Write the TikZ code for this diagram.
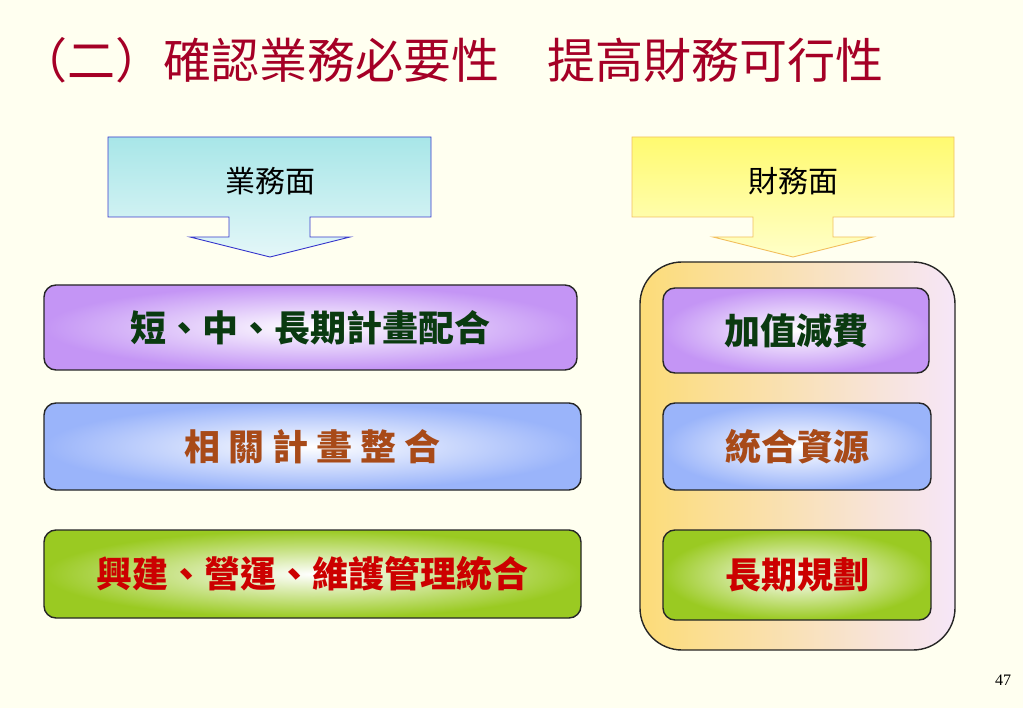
\documentclass[tikz,border=0pt]{standalone}
\usepackage{fontspec}
\newfontfamily\cjk{Noto Sans CJK TC}
\setmainfont{Liberation Serif}
\definecolor{bgc}{HTML}{FFFFF0}
\definecolor{titlered}{HTML}{A50026}
\definecolor{cyantop}{HTML}{A8E6E8}
\definecolor{cyanbot}{HTML}{E4F7F8}
\definecolor{blueedge}{HTML}{3A3ACC}
\definecolor{yeltop}{HTML}{FFFA70}
\definecolor{yelbot}{HTML}{FFFFC8}
\definecolor{yeledge}{HTML}{F2C060}
\definecolor{purp}{HTML}{C495F5}
\definecolor{bluebox}{HTML}{9AB4FA}
\definecolor{greenbox}{HTML}{9ACA22}
\definecolor{dkgreen}{HTML}{0A3A10}
\definecolor{brown}{HTML}{A84A18}
\definecolor{redtxt}{HTML}{CC0000}
\definecolor{contleft}{HTML}{FCDC78}
\definecolor{contright}{HTML}{F6E6F8}
\tikzset{
  box/.style={draw=black!85, line width=1.4pt, rounded corners=12pt, inner color=white,
    font=\cjk\bfseries\fontsize{36}{42}\selectfont},
  headtxt/.style={font=\cjk\fontsize{30}{36}\selectfont, text=black},
}
\begin{document}
\begin{tikzpicture}[x=1pt,y=-1pt]
\fill[bgc] (0,0) rectangle (1023,708);
\useasboundingbox (0,0) rectangle (1023,708);
% title
\node[anchor=west, text=titlered, font=\cjk\fontsize{48}{56}\selectfont, inner sep=0pt] (title) at (19,60) {（二）確認業務必要性　提高財務可行性};
% header arrows
\shade[top color=cyantop, bottom color=cyanbot, draw=blueedge, line width=0.9pt]
  (108,137) -- (431,137) -- (431,217) -- (310,217) -- (310,237) -- (350,237) -- (270,257)
  -- (190,237) -- (229,237) -- (229,217) -- (108,217) -- cycle;
\node[headtxt] (h1) at (270,181) {業務面};
\shade[top color=yeltop, bottom color=yelbot, draw=yeledge, line width=0.9pt]
  (632,137) -- (954,137) -- (954,217) -- (833,217) -- (833,237) -- (873,237) -- (793,257)
  -- (713,237) -- (753,237) -- (753,217) -- (632,217) -- cycle;
\node[headtxt] (h2) at (793,181) {財務面};
% left boxes
\node[box, outer color=purp, minimum width=533pt, minimum height=85pt, text=dkgreen] (b1) at (310.5,327.5) {短、中、長期計畫配合};
\node[box, outer color=bluebox, minimum width=537pt, minimum height=87pt, text=brown] (b2) at (312.5,446.5) {相\hspace{8pt}關\hspace{8pt}計\hspace{8pt}畫\hspace{8pt}整\hspace{8pt}合};
\node[box, outer color=greenbox, minimum width=537pt, minimum height=88pt, text=redtxt] (b3) at (312.5,574) {興建、營運、維護管理統合};
% right container
\node[draw=black!85, line width=1.4pt, rounded corners=42pt, left color=contleft, right color=contright, minimum width=315pt, minimum height=388pt] (cont) at (797.5,456) {};
\node[box, outer color=purp, minimum width=266pt, minimum height=85pt, text=dkgreen] (r1) at (796,330.5) {加值減費};
\node[box, outer color=bluebox, minimum width=268pt, minimum height=87pt, text=brown] (r2) at (797,446.5) {統合資源};
\node[box, outer color=greenbox, minimum width=268pt, minimum height=90pt, text=redtxt] (r3) at (797,575) {長期規劃};
% page number
\node[font=\fontsize{16}{18}\selectfont] (pg) at (1003,680) {47};
\end{tikzpicture}
\end{document}
